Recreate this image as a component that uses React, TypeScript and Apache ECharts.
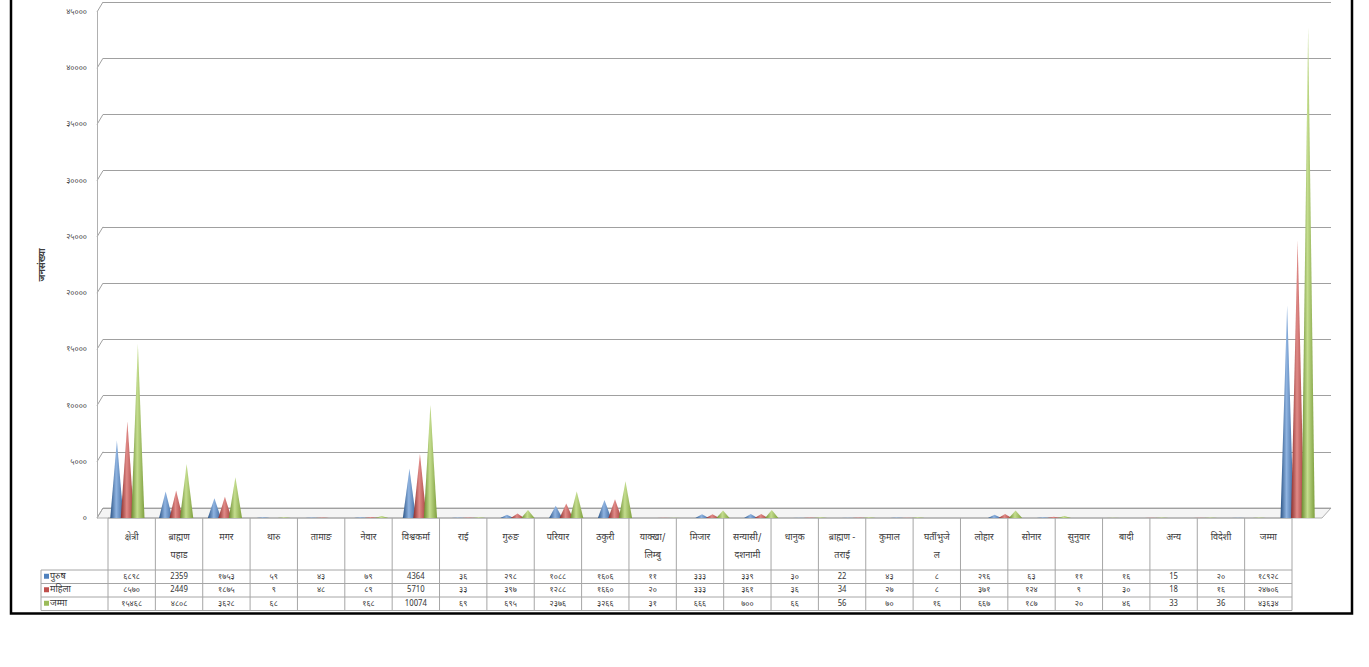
import React, { useEffect, useRef } from 'react';
import * as echarts from 'echarts';

const W = 1369;
const H = 667;

// ---- data ----
const categories = [
  'क्षेत्री', 'ब्राह्मण\nपहाड', 'मगर', 'थारु', 'तामाङ', 'नेवार', 'विश्वकर्मा', 'राई', 'गुरुङ',
  'परियार', 'ठकुरी', 'याक्खा/\nलिम्बु', 'मिजार', 'सन्यासी/\nदशनामी', 'धानुक', 'ब्राह्मण -\nतराई',
  'कुमाल', 'घर्तीभुजे\nल', 'लोहार', 'सोनार', 'सुनुवार', 'बादी', 'अन्य', 'विदेशी', 'जम्मा',
];
const seriesNames = ['पुरुष', 'महिला', 'जम्मा'];
const maleText = [
  '६८९८', '2359', '१७५३', '५९', '४३', '७९', '4364', '३६', '२९८', '१०८८', '१६०६', '११', '३३३',
  '३३९', '३०', '22', '४३', '८', '२९६', '६३', '११', '१६', '15', '२०', '१८९२८',
];
const femaleText = [
  '८५७०', '2449', '१८७५', '९', '४८', '८९', '5710', '३३', '३९७', '१२८८', '१६६०', '२०', '३३३',
  '३६१', '३६', '34', '२७', '८', '३७१', '१२४', '९', '३०', '18', '१६', '२४७०६',
];
const totalText = [
  '१५४६८', '४८०८', '३६२८', '६८', '', '१६८', '10074', '६९', '६९५', '२३७६', '३२६६', '३१', '६६६',
  '७००', '६६', '56', '७०', '१६', '६६७', '१८७', '२०', '४६', '33', '36', '४३६३४',
];
const yMin = 0;
const yMax = 45000;
const yInterval = 5000;
const yTitle = 'जनसंख्या';

// ---- styling ----
const colors = ['#4F81BD', '#C0504D', '#9BBB59'];
const shades = [
  ['#2c5587', '#8fb3e0', '#3b68a0'],
  ['#8c2f2c', '#e08a87', '#a33d3a'],
  ['#6a8a2f', '#c4dd8e', '#7e9f3e'],
];
const FONT = "'Noto Sans Devanagari', 'Lohit Devanagari', 'Noto Sans', 'DejaVu Sans', sans-serif";

const DEV = '०१२३४५६७८९';
const toDeva = (s: string) => s.replace(/[0-9]/g, (d) => DEV[Number(d)]);
const parseNum = (s: string) =>
  s === '' ? null : Number(s.replace(/[०-९]/g, (d) => String(DEV.indexOf(d))));

// ---- layout ----
const PLOT_TOP = 12;
const PLOT_BOTTOM = 518;
const AXIS_X = 97;
const BAR_LEFT = 103;
const BAR_RIGHT = 1322;
const WALL_RIGHT = 1331;
const DEPTH = 10;
const TABLE_LEFT = 108;
const TABLE_RIGHT = 1292;
const LEGEND_LEFT = 41;
const HEADER_TOP = 518;
const HEADER_BOTTOM = 570;
const ROW_H = 13.5;

function buildTable() {
  const els: any[] = [];
  const n = categories.length;
  const colW = (TABLE_RIGHT - TABLE_LEFT) / n;
  const lineStyle = { stroke: '#a6a6a6', lineWidth: 1 };
  const rowsText = [maleText, femaleText, totalText];
  const bottom = HEADER_BOTTOM + ROW_H * rowsText.length;
  els.push({ type: 'line', shape: { x1: TABLE_LEFT, y1: HEADER_TOP, x2: TABLE_RIGHT, y2: HEADER_TOP }, style: lineStyle, silent: true });
  for (let r = 0; r <= rowsText.length; r++) {
    const y = HEADER_BOTTOM + r * ROW_H;
    els.push({ type: 'line', shape: { x1: LEGEND_LEFT, y1: y, x2: TABLE_RIGHT, y2: y }, style: lineStyle, silent: true });
  }
  for (let i = 0; i <= n; i++) {
    const x = TABLE_LEFT + i * colW;
    els.push({ type: 'line', shape: { x1: x, y1: HEADER_TOP, x2: x, y2: bottom }, style: lineStyle, silent: true });
  }
  els.push({ type: 'line', shape: { x1: LEGEND_LEFT, y1: HEADER_BOTTOM, x2: LEGEND_LEFT, y2: bottom }, style: lineStyle, silent: true });
  categories.forEach((c, i) => {
    els.push({
      type: 'text', x: TABLE_LEFT + (i + 0.5) * colW, y: HEADER_TOP + 11, silent: true,
      style: { text: c, fill: '#3a3a3a', font: `9px ${FONT}`, align: 'center', verticalAlign: 'top', lineHeight: 18 },
    });
  });
  rowsText.forEach((row, r) => {
    const yMid = HEADER_BOTTOM + (r + 0.5) * ROW_H;
    els.push({ type: 'rect', shape: { x: LEGEND_LEFT + 3, y: yMid - 3, width: 5, height: 5 }, style: { fill: colors[r] }, silent: true });
    els.push({
      type: 'text', x: LEGEND_LEFT + 9, y: yMid, silent: true,
      style: { text: seriesNames[r], fill: '#3a3a3a', font: `9px ${FONT}`, align: 'left', verticalAlign: 'middle' },
    });
    row.forEach((v, i) => {
      els.push({
        type: 'text', x: TABLE_LEFT + (i + 0.5) * colW, y: yMid, silent: true,
        style: { text: v, fill: '#3a3a3a', font: `8px ${FONT}`, align: 'center', verticalAlign: 'middle' },
      });
    });
  });
  // side-wall diagonals joining each tick to its back-wall gridline
  for (let v = yMin; v <= yMax; v += yInterval) {
    const y = PLOT_BOTTOM - ((v - yMin) / (yMax - yMin)) * (PLOT_BOTTOM - PLOT_TOP);
    els.push({
      type: 'line', silent: true,
      shape: { x1: AXIS_X, y1: y, x2: BAR_LEFT, y2: y - DEPTH },
      style: { stroke: '#a0a0a0', lineWidth: 1 },
    });
  }
  els.push({
    type: 'polygon', silent: true, z: -1,
    shape: { points: [[AXIS_X, PLOT_BOTTOM], [BAR_LEFT, PLOT_BOTTOM - DEPTH], [WALL_RIGHT, PLOT_BOTTOM - DEPTH], [BAR_RIGHT, PLOT_BOTTOM]] },
    style: { fill: '#f4f4f4', stroke: '#b0b0b0', lineWidth: 1 },
  });
  els.push({
    type: 'rect', silent: true,
    shape: { x: 11, y: -3, width: 1341, height: bottom + 6 },
    style: { fill: 'none', stroke: '#000', lineWidth: 2.5 },
  });
  return els;
}

export default function App() {
  const ref = useRef<HTMLDivElement>(null);
  useEffect(() => {
    if (!ref.current) return;
    const chart = echarts.init(ref.current, undefined, { renderer: 'svg' });
    const rows = [maleText, femaleText, totalText];
    const grad = (k: number) =>
      new echarts.graphic.LinearGradient(0, 0, 1, 0, [
        { offset: 0, color: shades[k][0] },
        { offset: 0.45, color: shades[k][1] },
        { offset: 1, color: shades[k][2] },
      ]);
    chart.setOption({
      animation: false,
      textStyle: { fontFamily: FONT },
      grid: [
        { left: AXIS_X, right: W - WALL_RIGHT, top: PLOT_TOP, bottom: H - PLOT_BOTTOM },
        { left: BAR_LEFT, right: W - BAR_RIGHT, top: PLOT_TOP, bottom: H - PLOT_BOTTOM },
        { left: BAR_LEFT, right: W - WALL_RIGHT, top: PLOT_TOP - DEPTH, bottom: H - PLOT_BOTTOM + DEPTH },
      ],
      xAxis: [
        { type: 'category', gridIndex: 0, data: categories, show: false },
        { type: 'category', gridIndex: 1, data: categories, show: false },
        { type: 'category', gridIndex: 2, data: categories, show: false },
      ],
      yAxis: [
        {
          type: 'value', gridIndex: 0, min: yMin, max: yMax, interval: yInterval,
          name: yTitle, nameLocation: 'middle', nameGap: 50, nameRotate: 90,
          nameTextStyle: { fontSize: 9, color: '#404040', fontWeight: 'bold', fontFamily: FONT },
          axisLine: { show: true, lineStyle: { color: '#b0b0b0' } },
          axisTick: { show: false },
          splitLine: { show: false },
          axisLabel: { fontSize: 8, color: '#4a4a4a', margin: 10, formatter: (v: number) => toDeva(String(v)), fontFamily: FONT },
        },
        { type: 'value', gridIndex: 1, min: yMin, max: yMax, interval: yInterval, show: false, splitLine: { show: false } },
        {
          type: 'value', gridIndex: 2, min: yMin, max: yMax, interval: yInterval,
          axisLine: { show: false }, axisTick: { show: false }, axisLabel: { show: false },
          splitLine: { show: true, lineStyle: { color: '#a0a0a0', width: 1 } },
        },
      ],
      series: seriesNames.map((name, k) => ({
        name,
        type: 'pictorialBar',
        xAxisIndex: 1,
        yAxisIndex: 1,
        symbol: 'triangle',
        symbolSize: [13, '100%'],
        barWidth: 10.5,
        barGap: '0%',
        itemStyle: { color: grad(k) },
        data: rows[k].map(parseNum),
        z: 3 + k,
      })),
      graphic: { elements: buildTable() },
    });
    return () => chart.dispose();
  }, []);
  return (
    <div
      ref={ref}
      style={{ position: 'absolute', left: 0, top: 0, width: W, height: H, background: '#fff' }}
    />
  );
}
